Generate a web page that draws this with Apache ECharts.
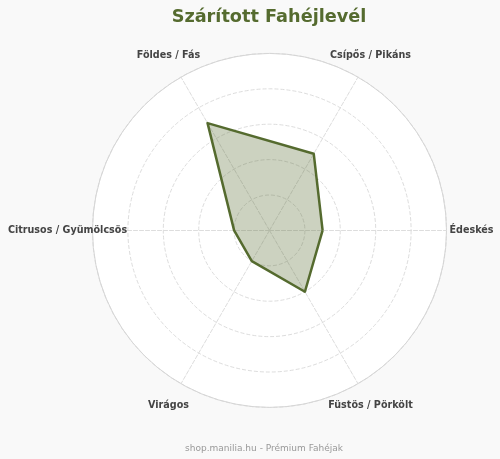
<!DOCTYPE html>
<html>
<head>
<meta charset="utf-8">
<script src="https://cdn.jsdelivr.net/npm/echarts@6/dist/echarts.min.js"></script>
<style>
html,body{margin:0;padding:0;background:#f9f9f9;}
#c{width:500px;height:459px;}
</style>
</head>
<body>
<div id="c"></div>
<script>
const titleText = "Szárított Fahéjlevél";
const footerText = "shop.manilia.hu - Prémium Fahéjak";
const indicatorNames = ["Édeskés", "Csípős / Pikáns", "Földes / Fás", "Citrusos / Gyümölcsös", "Virágos", "Füstös / Pörkölt"];
const indicatorMax = [10, 10, 10, 10, 10, 10];
const seriesValues = [3, 5, 7, 2, 2, 4];

const chart = echarts.init(document.getElementById('c'));
const center = ['53.9%', '50.2%'];
const radius = 177;
chart.setOption({
  backgroundColor: '#f9f9f9',
  title: [{
    text: titleText, left: 264, textAlign: 'center', top: 3,
    textStyle: { color: '#556b2f', fontSize: 17.7, fontWeight: 'bold', fontFamily: 'DejaVu Sans' }
  }, {
    text: footerText, left: 259, textAlign: 'center', top: 439,
    textStyle: { color: '#999', fontSize: 9, fontWeight: 'normal', fontFamily: 'DejaVu Sans' }
  }],
  radar: [{
    center: center, radius: radius, startAngle: 0, shape: 'circle', splitNumber: 5,
    indicator: indicatorNames.map((n, i) => ({ name: n, max: indicatorMax[i] })),
    axisName: { color: '#444', fontSize: 9.6, fontWeight: 'bold', fontFamily: 'DejaVu Sans', align: 'center', verticalAlign: 'middle', padding: [3, 0, 0, 0] },
    nameGap: 25,
    splitArea: { show: true, areaStyle: { color: ['#fff'] } },
    splitLine: { lineStyle: { color: '#ddd', type: 'dashed', width: 1 } },
    axisLine: { lineStyle: { color: '#ddd', type: 'dashed', width: 1 } }
  }, {
    center: center, radius: radius, startAngle: 0, shape: 'circle', splitNumber: 1,
    indicator: indicatorNames.map((n, i) => ({ name: '', max: indicatorMax[i] })),
    axisName: { show: false },
    splitArea: { show: false },
    splitLine: { lineStyle: { color: '#d6d6d6', type: 'solid', width: 1 } },
    axisLine: { show: false }
  }],
  series: [{
    type: 'radar', radarIndex: 0, symbol: 'none',
    lineStyle: { color: '#556b2f', width: 2.5 },
    areaStyle: { color: '#556b2f', opacity: 0.3 },
    data: [{ value: seriesValues, name: titleText }]
  }]
});
</script>
</body>
</html>
